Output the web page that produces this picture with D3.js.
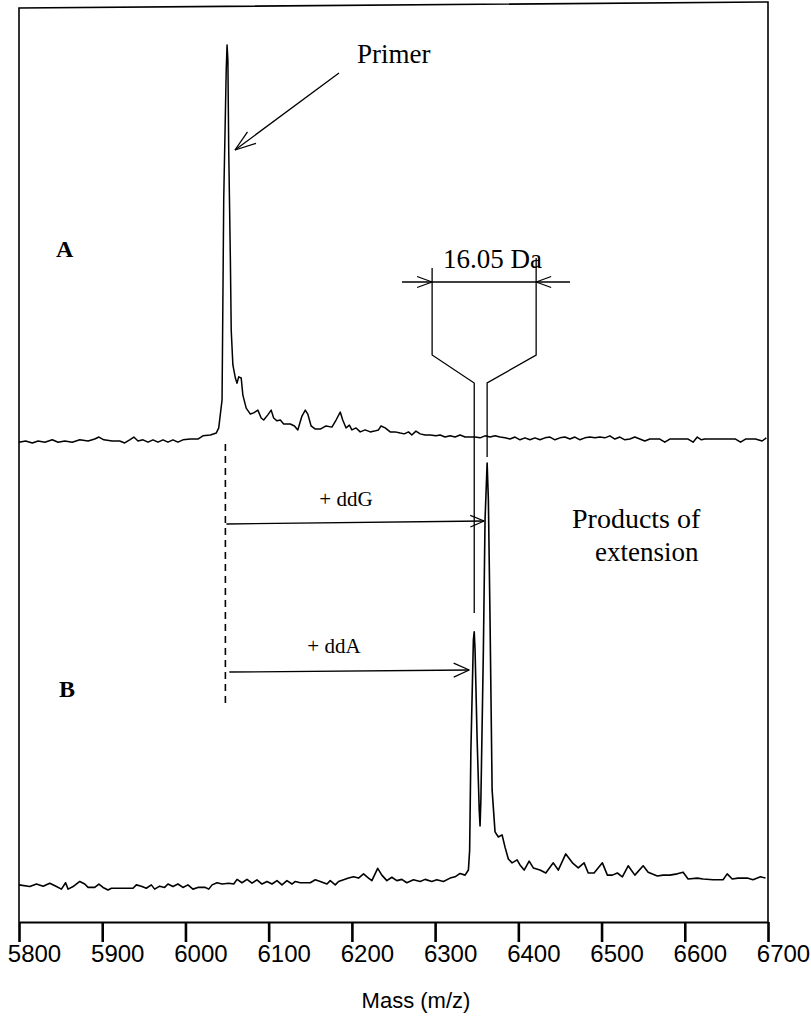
<!DOCTYPE html>
<html>
<head>
<meta charset="utf-8">
<script src="https://cdn.jsdelivr.net/npm/d3@7"></script>
<style>
  body { margin: 0; background: #fff; }
  svg { display: block; }
</style>
</head>
<body>
<div id="chart"></div>
<script>
// mass axis ticks (m/z)
var massTicks = [5800, 5900, 6000, 6100, 6200, 6300, 6400, 6500, 6600, 6700];

// spectrum A: primer only, [mass, relative intensity %]
var spectrumA = [
  [5800,-0.3],[5808,0],[5816,-0.5],[5823,0],[5831,-0.3],[5840,0.3],[5847,-0.3],[5855,0],
  [5864,-0.3],[5873,0.3],[5883,0],[5891,0.5],[5896,1.0],[5902,0.3],[5912,0],[5921,0],
  [5927,-0.5],[5933,0.3],[5938,1.0],[5943,0],[5949,0.3],[5955,-0.3],[5961,0.3],[5967,-0.3],
  [5973,0.3],[5979,-0.3],[5985,0.3],[5991,-0.3],[5997,0.3],[6006,0.5],[6015,0.5],[6021,1.3],
  [6030,1.5],[6037,2.0],[6040,3.3],[6044,10.4],[6046,61.1],[6049,93.7],[6050,100],[6051,96.2],
  [6052,73.5],[6054,45.7],[6055,28],[6057,19.2],[6060,15.9],[6062,14.6],[6064,16.2],[6067,15.9],
  [6069,11.6],[6073,8.3],[6078,6.8],[6082,7.1],[6087,7.8],[6091,5.8],[6094,5.3],[6099,6.6],
  [6103,7.8],[6106,5.8],[6110,5.1],[6114,5.3],[6118,4.3],[6126,4.3],[6131,3.8],[6135,2.8],
  [6140,6.3],[6144,7.8],[6147,6.8],[6151,3.8],[6156,3.0],[6162,3.0],[6169,3.8],[6176,3.5],
  [6181,5.3],[6186,7.3],[6189,5.3],[6193,3.3],[6197,4.0],[6200,2.8],[6205,3.3],[6210,2.3],
  [6216,2.8],[6222,2.3],[6227,2.5],[6232,2.8],[6235,3.8],[6240,3.3],[6246,2.3],[6252,2.3],
  [6258,2.0],[6263,1.8],[6268,2.3],[6272,1.5],[6277,2.5],[6282,1.8],[6288,1.5],[6294,1.5],
  [6301,1.3],[6306,1.5],[6312,1.0],[6318,1.3],[6324,1.0],[6330,1.5],[6336,1.0],[6342,1.0],
  [6348,1.0],[6354,0.8],[6360,1.3],[6366,1.0],[6372,1.3],[6378,1.0],[6384,0.8],[6390,0.5],
  [6396,1.0],[6402,0.3],[6408,0.8],[6414,0.3],[6420,0.8],[6426,0.3],[6432,0.8],[6438,1.0],
  [6444,0.3],[6450,0.8],[6456,1.0],[6462,0.5],[6468,1.0],[6474,0.3],[6480,0.8],[6486,1.0],
  [6492,0.8],[6498,1.0],[6504,0.8],[6510,1.3],[6516,0.5],[6522,1.0],[6528,0.3],[6534,0.5],
  [6540,1.0],[6546,0.5],[6552,0],[6558,0.5],[6570,0.5],[6576,-0.3],[6582,0.5],[6594,0.5],
  [6604,0.5],[6610,-0.3],[6615,1.0],[6620,0.3],[6624,0.5],[6637,0.5],[6649,0.5],[6661,0.5],
  [6667,-0.3],[6673,0.5],[6685,0.5],[6693,0],[6698,0.8]
];

// spectrum B: extension products, [mass, relative intensity %]
var spectrumB = [
  [5800,0.5],[5813,0.1],[5821,0.7],[5829,0.2],[5837,0.9],[5845,0.1],[5851,-0.5],[5856,1.0],
  [5859,-0.5],[5865,0.1],[5873,1.3],[5879,0.7],[5883,-0.1],[5891,-0.1],[5896,0.7],[5901,-0.1],
  [5907,-0.7],[5911,-0.3],[5917,-0.3],[5937,-0.3],[5941,0.5],[5947,0.2],[5953,-0.3],[5959,0.5],
  [5963,-0.5],[5969,0.2],[5975,-0.1],[5979,0.7],[5985,0.1],[5991,0.7],[5997,-0.1],[6003,0.5],
  [6009,-0.5],[6015,-0.1],[6024,-0.1],[6028,-0.5],[6032,0.5],[6038,1.0],[6044,0.7],[6052,0.9],
  [6058,0.7],[6062,1.8],[6068,1.0],[6074,1.8],[6080,0.9],[6086,1.7],[6092,0.7],[6098,1.3],
  [6104,0.7],[6110,1.5],[6116,0.5],[6122,1.5],[6128,0.7],[6132,1.3],[6138,1.0],[6150,1.0],
  [6156,1.7],[6162,1.3],[6170,0.7],[6174,1.5],[6180,0.5],[6184,1.3],[6190,1.7],[6196,2.1],
  [6202,2.4],[6208,2.1],[6214,3.1],[6220,2.1],[6224,1.5],[6231,4.4],[6236,2.8],[6242,1.5],
  [6248,2.3],[6254,1.5],[6260,1.8],[6266,1.0],[6274,1.7],[6282,1.3],[6288,1.8],[6296,1.3],
  [6302,1.7],[6310,1.3],[6318,2.1],[6324,2.4],[6330,3.2],[6336,2.8],[6340,4.0],[6341.5,8.7],
  [6343,32.3],[6346,58.3],[6347,60.2],[6348,55.9],[6350.5,34.7],[6353,18.2],[6354,14.4],[6355,20.5],
  [6358,55.9],[6360,86.6],[6362.5,100],[6364,91.3],[6366,63],[6368.5,22.9],[6372,13],[6376,11.8],
  [6380.5,12.3],[6384,9.4],[6388,6.6],[6392.5,5.7],[6398.5,6.4],[6402,5.2],[6407,4.0],[6413,6.1],
  [6418,4.5],[6426,4.0],[6433,3.3],[6442,5.7],[6448,4.0],[6457,7.8],[6465,5.7],[6472,4.5],
  [6479,5.7],[6484,3.3],[6491,3.3],[6501,5.7],[6507,2.8],[6513,2.8],[6519,3.3],[6525,2.4],
  [6532,5.0],[6540,2.8],[6550,5.0],[6556,3.5],[6567,2.6],[6574,2.8],[6582,2.8],[6591,3.1],
  [6598,3.5],[6604,1.9],[6615,2.1],[6622,1.9],[6634,1.7],[6646,1.7],[6651,3.1],[6657,1.9],
  [6664,2.1],[6675,2.1],[6682,1.7],[6691,2.4],[6697,2.1]
];

// peak positions used by the annotations
var primerMass = 6048;
var ddAMass = 6347;
var ddGMass = 6362.5;
var bracketMasses = [6296.4, 6421.4];

var width = 811, height = 1018;
var serif = "'Liberation Serif', 'Times New Roman', serif";
var sans = "'Liberation Sans', Arial, sans-serif";

var svg = d3.select('#chart').append('svg')
  .attr('width', width)
  .attr('height', height);

var x = d3.scaleLinear().domain([5800, 6700]).range([19, 768]);
var yA = d3.scaleLinear().domain([0, 100]).range([441, 45]);
var yB = d3.scaleLinear().domain([0, 100]).range([887, 463]);

var axisY = 922;

// frame (scanned figure, top edge slightly tilted)
svg.append('path')
  .attr('d', 'M' + x(5800) + ',' + axisY + 'V8L' + x(6700) + ',2V' + axisY)
  .attr('fill', 'none')
  .attr('stroke', '#000')
  .attr('stroke-width', 1.6);

// bottom axis
var axis = svg.append('g')
  .attr('transform', 'translate(0,' + axisY + ')')
  .call(d3.axisBottom(x)
    .tickValues(massTicks)
    .tickSize(20)
    .tickSizeOuter(0)
    .tickFormat(d3.format('d')));
axis.select('.domain').attr('stroke-width', 2.2);
axis.selectAll('.tick line').attr('stroke-width', 2.6);
axis.selectAll('.tick text')
  .attr('y', 40)
  .attr('dy', 0)
  .attr('dx', 15)
  .style('font-family', sans)
  .style('font-size', '24px')
  .attr('fill', '#000');

svg.append('text')
  .attr('x', 416)
  .attr('y', 1008)
  .attr('text-anchor', 'middle')
  .style('font-family', sans)
  .style('font-size', '22px')
  .text('Mass (m/z)');

// spectra
var lineA = d3.line()
  .x(function(d) { return x(d[0]); })
  .y(function(d) { return yA(d[1]); });
var lineB = d3.line()
  .x(function(d) { return x(d[0]); })
  .y(function(d) { return yB(d[1]); });

svg.append('path')
  .datum(spectrumA)
  .attr('d', lineA)
  .attr('fill', 'none')
  .attr('stroke', '#000')
  .attr('stroke-width', 1.5)
  .attr('stroke-linejoin', 'round');

svg.append('path')
  .datum(spectrumB)
  .attr('d', lineB)
  .attr('fill', 'none')
  .attr('stroke', '#000')
  .attr('stroke-width', 1.6)
  .attr('stroke-linejoin', 'round');

// helpers for the annotations
var ann = svg.append('g')
  .attr('fill', 'none')
  .attr('stroke', '#000')
  .attr('stroke-width', 1.3);

function segment(x1, y1, x2, y2) {
  ann.append('line')
    .attr('x1', x1).attr('y1', y1)
    .attr('x2', x2).attr('y2', y2);
}
// open V arrow head at (tx, ty), coming from (fx, fy)
function arrowHead(fx, fy, tx, ty, len, spread) {
  var a = Math.atan2(fy - ty, fx - tx);
  [-spread, spread].forEach(function(s) {
    segment(tx, ty, tx + len * Math.cos(a + s), ty + len * Math.sin(a + s));
  });
}

// primer arrow
segment(339, 73, 235, 150);
arrowHead(339, 73, 235, 150, 22, 0.33);

// 16.05 Da bracket
var bl = x(bracketMasses[0]), br = x(bracketMasses[1]);
var pa = x(ddAMass), pg = x(ddGMass);
segment(402, 282, 570, 282);
arrowHead(402, 282, bl, 282, 16, 0.35);
arrowHead(570, 282, br, 282, 16, 0.35);
ann.append('path')
  .attr('d', 'M' + bl + ',268V355L' + pa + ',383V613');
ann.append('path')
  .attr('d', 'M' + br + ',258V355L' + pg + ',383V457');

// dashed primer position
ann.append('line')
  .attr('x1', x(primerMass)).attr('y1', 444)
  .attr('x2', x(primerMass)).attr('y2', 703)
  .attr('stroke-dasharray', '7,5')
  .attr('stroke-width', 1.6);

// + ddG / + ddA arrows
segment(x(primerMass) + 1, 524, pg - 3, 521);
arrowHead(x(primerMass) + 1, 524, pg - 3, 521, 15, 0.4);
segment(x(primerMass) + 4, 672, pa - 5, 670);
arrowHead(x(primerMass) + 4, 672, pa - 5, 670, 17, 0.42);

// labels
function label(tx, ty, txt, size, anchor, weight) {
  svg.append('text')
    .attr('x', tx)
    .attr('y', ty)
    .attr('text-anchor', anchor || 'start')
    .style('font-family', serif)
    .style('font-size', size + 'px')
    .style('font-weight', weight || 'normal')
    .text(txt);
}
label(357, 63, 'Primer', 27);
label(443, 268, '16.05 Da', 27);
label(346, 506, '+ ddG', 21, 'middle');
label(334, 653, '+ ddA', 21, 'middle');
label(572, 528, 'Products of', 28);
label(595, 561, 'extension', 27);
label(56, 257, 'A', 24, 'start', 'bold');
label(59, 697, 'B', 24, 'start', 'bold');
</script>
</body>
</html>
